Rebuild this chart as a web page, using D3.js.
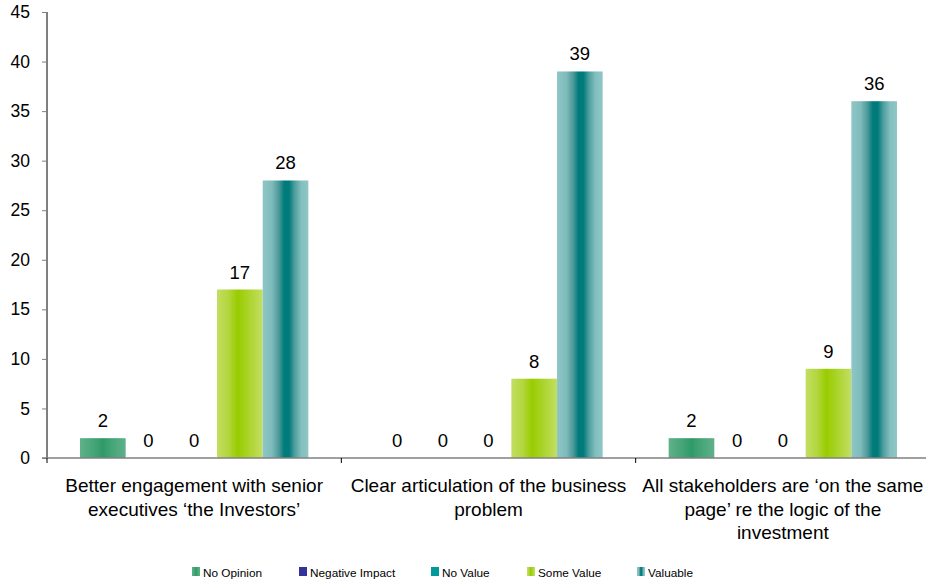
<!DOCTYPE html>
<html>
<head>
<meta charset="utf-8">
<script src="https://cdn.jsdelivr.net/npm/d3@7"></script>
<style>
  html, body { margin: 0; padding: 0; background: #fff; }
  svg { display: block; font-family: Arial, "Liberation Sans", sans-serif; }
</style>
</head>
<body>
<svg id="chart" width="926" height="582"></svg>
<script>
// Survey responses per benefit statement
const categories = [
  ["Better engagement with senior", "executives \u2018the Investors\u2019"],
  ["Clear articulation of the business", "problem"],
  ["All stakeholders are \u2018on the same", "page\u2019 re the logic of the", "investment"]
];
const seriesNames = ["No Opinion", "Negative Impact", "No Value", "Some Value", "Valuable"];
const noOpinion      = [2, 0, 2];
const negativeImpact = [0, 0, 0];
const noValue        = [0, 0, 0];
const someValue      = [17, 8, 9];
const valuable       = [28, 39, 36];
const seriesValues = [noOpinion, negativeImpact, noValue, someValue, valuable];
const yTicks = [0, 5, 10, 15, 20, 25, 30, 35, 40, 45];

const svg = d3.select("#chart");
const margin = { left: 47, top: 12, right: -4, bottom: 124 };
const W = 926, H = 582;
const x0 = margin.left, x1 = W - margin.right;
const yTop = margin.top, yBot = H - margin.bottom;

// Horizontal cylinder-like shading for the bars
const defs = svg.append("defs");
const gradients = [
  { id: "g0", stops: [[0, "#5fb189"], [0.3, "#45a577"], [0.5, "#2f9a67"], [0.7, "#45a577"], [1, "#5fb189"]] },
  { id: "g1", stops: [[0, "#333399"], [1, "#333399"]] },
  { id: "g2", stops: [[0, "#009999"], [1, "#009999"]] },
  { id: "g3", stops: [[0, "#c3de63"], [0.25, "#b3d63e"], [0.45, "#99cc00"], [0.6, "#a3d11a"], [1, "#c3de63"]] },
  { id: "g4", stops: [[0, "#8fc6c6"], [0.2, "#7fbcbc"], [0.35, "#4f9a9a"], [0.47, "#007b7b"], [0.58, "#007b7b"], [0.7, "#4f9e9e"], [0.85, "#84c0c0"], [1, "#8fc6c6"]] }
];
gradients.forEach(g => {
  const lg = defs.append("linearGradient").attr("id", g.id)
    .attr("x1", "0%").attr("x2", "100%").attr("y1", "0%").attr("y2", "0%");
  g.stops.forEach(s => lg.append("stop").attr("offset", s[0]).attr("stop-color", s[1]));
});

const x = d3.scaleBand().domain(d3.range(categories.length)).range([x0, x1]).paddingInner(0).paddingOuter(0);
const xs = d3.scaleBand().domain(d3.range(seriesNames.length)).range([0, x.bandwidth()])
  .paddingInner(0).paddingOuter(33 / 45.7);
const y = d3.scaleLinear().domain([0, 45]).range([yBot, yTop]);

// Bars and value labels
const groups = svg.append("g").selectAll("g").data(categories).join("g")
  .attr("transform", (d, i) => `translate(${x(i)},0)`);
groups.each(function (d, ci) {
  const g = d3.select(this);
  seriesValues.forEach((vals, si) => {
    const v = vals[ci];
    if (v > 0) {
      g.append("rect")
        .attr("x", xs(si)).attr("width", xs.bandwidth())
        .attr("y", y(v)).attr("height", y(0) - y(v))
        .attr("fill", `url(#g${si})`);
    }
    g.append("text")
      .attr("x", xs(si) + xs.bandwidth() / 2)
      .attr("y", y(v) - 11)
      .attr("text-anchor", "middle")
      .attr("font-size", 18.5).attr("fill", "#000")
      .text(v);
  });
});

// Y axis
const yAxis = d3.axisLeft(y).tickValues(yTicks).tickSize(5).tickPadding(12);
const ya = svg.append("g").attr("transform", `translate(${x0},0)`).call(yAxis);
ya.select(".domain").attr("stroke", "#000").attr("d", `M0,${yBot}V${yTop}`);
ya.selectAll(".tick line").attr("stroke", "#808080");
ya.selectAll(".tick text").attr("font-size", 17.5).attr("fill", "#000").attr("font-family", "Arial, 'Liberation Sans', sans-serif");

// X axis baseline with tick marks between categories
const xa = svg.append("g");
xa.append("line").attr("x1", x0 - 5).attr("x2", x1).attr("y1", yBot).attr("y2", yBot)
  .attr("stroke", "#808080").attr("stroke-width", 1.5);
d3.range(categories.length + 1).forEach(i => {
  const px = i < categories.length ? x(i) : x1;
  xa.append("line").attr("x1", px).attr("x2", px).attr("y1", yBot).attr("y2", yBot + 5)
    .attr("stroke", "#000");
});

// Category labels
categories.forEach((lines, i) => {
  const t = svg.append("text")
    .attr("text-anchor", "middle").attr("font-size", 19).attr("fill", "#000");
  lines.forEach((ln, j) => {
    t.append("tspan").attr("x", x(i) + x.bandwidth() / 2).attr("y", 492 + j * 23.5).text(ln);
  });
});

// Legend
const legendX = [192, 299, 431, 527, 637];
const lg = svg.append("g");
seriesNames.forEach((name, i) => {
  lg.append("rect").attr("x", legendX[i]).attr("y", 567).attr("width", 8).attr("height", 9)
    .attr("fill", `url(#g${i})`);
  lg.append("text").attr("x", legendX[i] + 11).attr("y", 576.5)
    .attr("font-size", 11.8).attr("fill", "#000").text(name);
});
</script>
</body>
</html>
